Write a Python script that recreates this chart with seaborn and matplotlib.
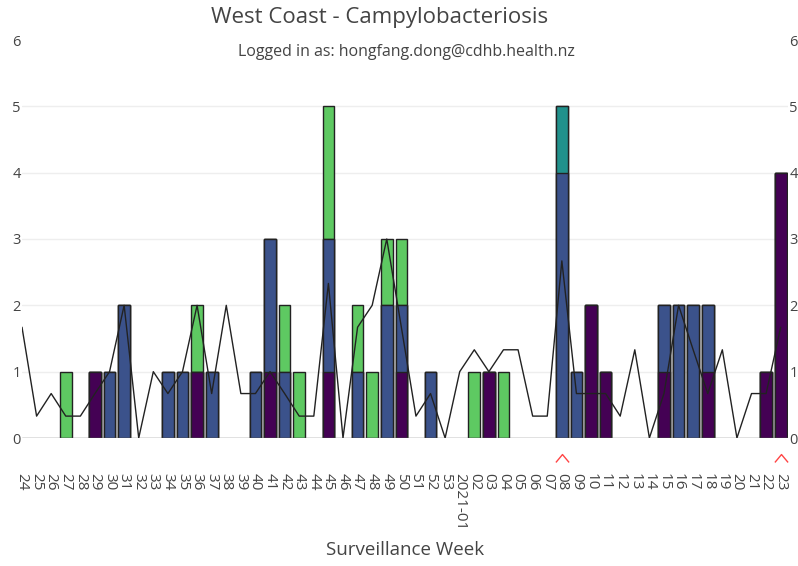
import numpy as np
import pandas as pd
import matplotlib
matplotlib.use('Agg')
import matplotlib.pyplot as plt
from matplotlib.path import Path
import seaborn as sns

# surveillance weeks shown on the x axis
weeks = [str(w) for w in range(24, 54)] + ['2021-01'] + ['%02d' % w for w in range(2, 24)]

# case counts per week, one dict per stacked group (only non-zero weeks)
purple_counts = {'29': 1, '36': 1, '41': 1, '45': 1, '50': 1, '03': 1, '10': 2,
                 '11': 1, '15': 1, '18': 1, '22': 1, '23': 4}
blue_counts = {'30': 1, '31': 2, '34': 1, '35': 1, '37': 1, '40': 1, '41': 2,
               '42': 1, '45': 2, '47': 1, '49': 2, '50': 1, '52': 1, '08': 4,
               '09': 1, '15': 1, '16': 2, '17': 2, '18': 1}
teal_counts = {'08': 1}
green_counts = {'27': 1, '36': 1, '42': 1, '43': 1, '45': 2, '47': 1, '48': 1,
                '49': 1, '50': 1, '02': 1, '04': 1}

# historical average line
hist_avg = [1.67, 0.33, 0.67, 0.33, 0.33, 0.67, 1.0, 2.0, 0.0, 1.0,
            0.67, 1.0, 2.0, 0.67, 2.0, 0.67, 0.67, 1.0, 0.67, 0.33,
            0.33, 2.33, 0.0, 1.67, 2.0, 3.0, 1.67, 0.33, 0.67, 0.0,
            1.0, 1.33, 1.0, 1.33, 1.33, 0.33, 0.33, 2.67, 0.67, 0.67,
            0.67, 0.33, 1.33, 0.0, 0.67, 2.0, 1.33, 0.67, 1.33, 0.0,
            0.67, 0.67, 1.67]

flag_weeks = ['08', '23']

groups = ['purple', 'blue', 'teal', 'green']
colors = {'purple': '#440154', 'blue': '#3b528b', 'teal': '#21918c', 'green': '#5ec962'}
counts = {'purple': purple_counts, 'blue': blue_counts, 'teal': teal_counts, 'green': green_counts}

df = pd.DataFrame({'week': weeks})
for g in groups:
    df[g] = [counts[g].get(w, 0) for w in weeks]
cum = df[groups].cumsum(axis=1)
cum['week'] = weeks

sns.set_theme(style='white')
plt.rcParams['font.family'] = ['Open Sans', 'DejaVu Sans']
txt = '#444444'

fig = plt.figure(figsize=(7.98, 5.66), dpi=100)
ax = fig.add_axes([22 / 798, 1 - 438 / 566, 766 / 798, 398 / 566])

# stacked bars: draw cumulative totals from the top layer down
for g in reversed(groups):
    sns.barplot(data=cum, x='week', y=g, order=weeks, color=colors[g], saturation=1,
                edgecolor='#222222', linewidth=1, width=0.8, errorbar=None, ax=ax)
for p in ax.patches:
    if p.get_height() == 0:
        p.set_visible(False)

xpos = np.arange(len(weeks))
sns.lineplot(x=xpos, y=hist_avg, color='#222222', linewidth=1, ax=ax)

# red carets under flagged weeks
caret = Path([(-0.5, -0.3), (0, 0.3), (0.5, -0.3)], [Path.MOVETO, Path.LINETO, Path.LINETO])
fx = [weeks.index(w) for w in flag_weeks]
ax.plot(fx, [-0.3] * len(fx), linestyle='none', marker=caret, markersize=9.5,
        markerfacecolor='none', markeredgecolor='#ff4444', markeredgewidth=1, clip_on=False)

ax.set_xlim(0, len(weeks) - 0.5)
ax.set_ylim(0, 6)
ax.set_yticks(range(7))
ax.yaxis.grid(True, color='#eeeeee', linewidth=1)
ax.set_axisbelow(True)
gl = ax.get_ygridlines()
gl[0].set_visible(False)
gl[-1].set_visible(False)
ax.axhline(0, color='#666666', linewidth=1, zorder=1)
for s in ax.spines.values():
    s.set_visible(False)

ax.set_xticks(xpos)
ax.set_xticklabels(weeks, rotation=270, ha='center', va='top')
ax.tick_params(axis='x', length=0, pad=25, labelsize=11, labelcolor=txt)
ax.tick_params(axis='y', length=0, labelsize=10.5, labelcolor=txt, labelleft=True,
               labelright=True, pad=1)
ax.set_xlabel('')
ax.set_ylabel('')

fig.text(380 / 798, 1 - 18 / 566, 'West Coast - Campylobacteriosis', ha='center', va='center',
         fontsize=16, color=txt)
fig.text(406 / 798, 1 - 52 / 566, 'Logged in as: hongfang.dong@cdhb.health.nz', ha='center',
         va='center', fontsize=11.5, color=txt)
fig.text(405 / 798, 1 - 550 / 566, 'Surveillance Week', ha='center', va='center',
         fontsize=13.5, color=txt)

fig.savefig('out.png', dpi=100)
